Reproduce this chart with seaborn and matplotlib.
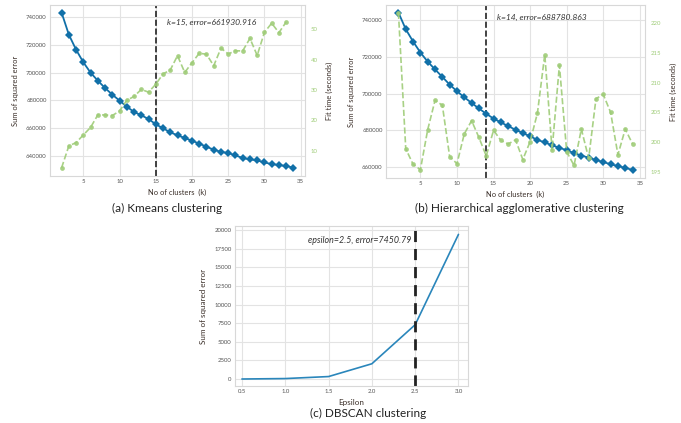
import numpy as np
import pandas as pd
import matplotlib
matplotlib.use("Agg")
import matplotlib.pyplot as plt
import seaborn as sns

# ---------------- data ----------------
k_values = list(range(2, 35))
kmeans_sse = [743400, 727500, 716600, 707500, 700000, 694200, 688900, 684100, 679800,
              675400, 671600, 669200, 666500, 662700, 659800, 656900, 654700, 652800,
              650800, 648700, 646500, 644300, 642700, 641900, 640200, 638300, 637300,
              636600, 635100, 633900, 633200, 632500, 631300]
kmeans_k_time = list(range(2, 34))
kmeans_time = [4.4, 11.6, 12.7, 15.2, 17.7, 21.8, 21.8, 21.6, 23.1, 26.6, 27.9, 30.2,
               29.3, 31.9, 35.3, 36.6, 41.3, 35.8, 39.0, 42.1, 41.8, 38.0, 43.8, 41.9,
               42.9, 42.9, 47.0, 41.4, 49.0, 52.0, 48.9, 52.4]

hier_sse = [744200, 735100, 728400, 722400, 717400, 713200, 709100, 704900, 701300,
            698000, 694900, 691900, 689000, 686400, 684300, 682300, 680300, 678500,
            676700, 674800, 673400, 671800, 670500, 669100, 667600, 666200, 665100,
            663800, 662700, 661500, 660500, 659500, 658400]
hier_time = [221.7, 198.9, 196.3, 195.4, 202.1, 207.0, 206.2, 197.6, 196.4, 201.4,
             203.6, 200.8, 197.7, 202.0, 200.3, 199.7, 200.4, 197.1, 200.1, 204.9,
             214.7, 198.7, 212.9, 198.4, 196.1, 202.2, 197.3, 207.3, 208.0, 205.0,
             197.9, 202.2, 199.7]

eps_values = [0.5, 1.0, 1.5, 2.0, 2.5, 3.0]
dbscan_sse = [0, 60, 330, 2050, 7300, 19450]

kmeans_best_k, kmeans_best_err = 15, 661930.916
hier_best_k, hier_best_err = 14, 688780.863
eps_best, eps_best_err = 2.5, 7450.79

captions = ["(a) Kmeans clustering", "(b) Hierarchical agglomerative clustering",
            "(c) DBSCAN clustering"]

# ---------------- style ----------------
sns.set_style("whitegrid", {"grid.color": "#e3e3e3", "axes.edgecolor": "#d8d8d8"})
plt.rcParams['font.family'] = ['Lato', 'DejaVu Sans']

BLUE = "#1170a8"
GREEN = "#9fcc78"
TICK = "#555555"
LABEL = "#3a2e28"
LBL_SIZE = 5.4
TICK_SIZE = 4.3

W, H = 681, 423
fig = plt.figure(figsize=(W / 100, H / 100), dpi=100)


def box(l, t, r, b):
    return [l / W, 1 - b / H, (r - l) / W, (b - t) / H]


def elbow(ax, sse, tk, times, xlim, ylim, y2lim, yticks, y2ticks, best_k, best_err, tx, ty):
    sns.lineplot(x=k_values, y=sse, ax=ax, color=BLUE, marker="D", markersize=4.2,
                 markeredgewidth=0, linewidth=1.3, zorder=3)
    ax.set_xlim(*xlim)
    ax.set_ylim(*ylim)
    ax.set_xticks([5, 10, 15, 20, 25, 30, 35])
    ax.set_yticks(yticks)
    ax.tick_params(labelsize=TICK_SIZE, colors=TICK, length=0, pad=2.5)
    ax.set_xlabel("No of clusters  (k)", fontsize=LBL_SIZE, color=LABEL, labelpad=3)
    ax.set_ylabel("Sum of squared error", fontsize=LBL_SIZE, color=LABEL, labelpad=5)
    ax.axvline(best_k, color="#222222", linestyle="--", linewidth=1.2)
    ax.text(tx, ty, f"k={best_k}, error={best_err:.3f}", fontsize=6.1, style="italic",
            color="#333333", va="center")
    ax2 = ax.twinx()
    sns.lineplot(x=tk, y=times, ax=ax2, color=GREEN, marker="o", markersize=3.4,
                 markeredgewidth=0, linewidth=1.2, linestyle="--", alpha=0.9)
    ax2.set_ylim(*y2lim)
    ax2.set_yticks(y2ticks)
    ax2.grid(False)
    ax2.tick_params(labelsize=TICK_SIZE, colors=GREEN, length=0, pad=4)
    ax2.set_ylabel("Fit time (seconds)", fontsize=LBL_SIZE, color=LABEL, labelpad=6)
    for s in ax2.spines.values():
        s.set_visible(False)
    return ax2


ax_a = fig.add_axes(box(50, 5, 305, 176))
elbow(ax_a, kmeans_sse, kmeans_k_time, kmeans_time, (0.4, 35.6), (625300, 748900),
      (1.7, 58), [640000, 660000, 680000, 700000, 720000, 740000], [10, 20, 30, 40, 50],
      kmeans_best_k, kmeans_best_err, 16.6, 736000)

ax_b = fig.add_axes(box(386, 5, 645, 178))
elbow(ax_b, hier_sse, k_values, hier_time, (0.3, 35.7), (654000, 748300),
      (194, 223), [660000, 680000, 700000, 720000, 740000], [195, 200, 205, 210, 215, 220],
      hier_best_k, hier_best_err, 15.5, 741500)

ax_c = fig.add_axes(box(235, 226, 468, 386))
sns.lineplot(x=eps_values, y=dbscan_sse, ax=ax_c, color="#2a86bb", linewidth=1.2)
ax_c.set_xlim(0.42, 3.11)
ax_c.set_ylim(-940, 20580)
ax_c.set_xticks(eps_values)
ax_c.set_xticklabels([f"{v:.1f}" for v in eps_values])
ax_c.set_yticks(np.arange(0, 20001, 2500))
ax_c.tick_params(labelsize=TICK_SIZE, colors=TICK, length=0, pad=2.5)
ax_c.set_xlabel("Epsilon", fontsize=LBL_SIZE + 0.4, color=LABEL, labelpad=3)
ax_c.set_ylabel("Sum of squared error", fontsize=LBL_SIZE + 0.4, color=LABEL, labelpad=5)
ax_c.axvline(eps_best, color="#222222", linestyle=(0, (4, 2.5)), linewidth=2.0)
ax_c.text(2.46, 18600, f"epsilon={eps_best}, error={eps_best_err}", fontsize=6.4,
          style="italic", color="#333333", ha="right", va="center")

fig.text(167 / W, 1 - 208 / H, captions[0], fontsize=8.5, ha="center", va="center", color="#222222")
fig.text(519 / W, 1 - 208 / H, captions[1], fontsize=8.5, ha="center", va="center", color="#222222")
fig.text(368 / W, 1 - 413 / H, captions[2], fontsize=8.5, ha="center", va="center", color="#222222")

fig.savefig("out.png", dpi=100)
